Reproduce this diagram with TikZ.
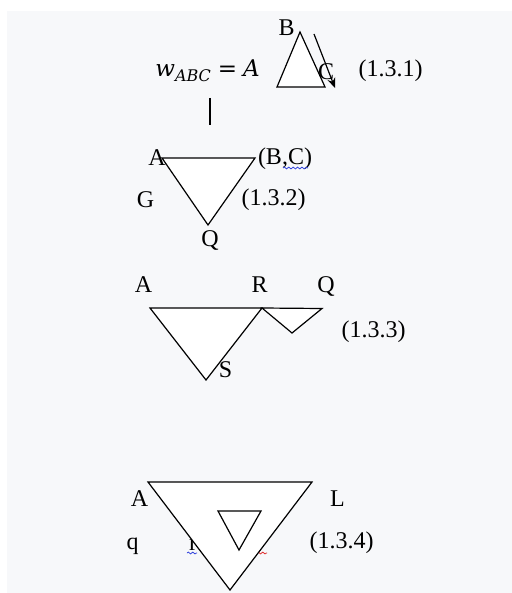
\documentclass[tikz,border=0pt]{standalone}
\usepackage{fontspec}
\setmainfont{Liberation Serif}
\newfontfamily\formulafont{DejaVu Serif}
\usetikzlibrary{arrows.meta,decorations.pathmorphing}
\definecolor{pagegray}{HTML}{F7F8FA}
\definecolor{spellblue}{HTML}{3344DD}
\definecolor{spellred}{HTML}{E03030}

\begin{document}
\begin{tikzpicture}[x=0.5pt,y=-0.5pt]
\tikzset{
  lbl/.style={inner sep=0pt,font=\fontsize{12}{14}\selectfont},
  formula/.style={inner sep=0pt,font=\formulafont\itshape\fontsize{11.5}{14}\selectfont},
  tri/.style={draw=black,fill=white,line width=0.6pt,line join=miter},
  pointer/.style={draw=black,line width=0.6pt,-{Stealth[length=5pt,width=4pt]}},
  squiggle/.style={line width=0.4pt,decorate,decoration={snake,amplitude=0.45pt,segment length=2.2pt}}
}
\fill[white] (0,0) rectangle (512,593);
\fill[pagegray] (7,11) rectangle (512,593);
\useasboundingbox (0,0) rectangle (512,593);
% (1.3.1)
\coordinate (t1_top) at (300,32);
\coordinate (t1_left) at (277,87);
\coordinate (t1_right) at (325,87);
\coordinate (arr_from) at (314,34);
\coordinate (arr_to) at (335,88);
\node[formula,anchor=base west] (n_w) at (155,77)
  {w\raisebox{-2.5pt}{\fontsize{8}{9}\selectfont ABC}\hspace{3.5pt}=\hspace{3pt}A};
\draw[tri] (t1_top) -- (t1_left) -- (t1_right) -- cycle;
\node[lbl] (n_B1) at (286.5,27.5) {B};
\node[lbl] (n_C1) at (326,71.5) {C};
\draw[pointer] (arr_from) -- (arr_to);
\node[lbl] (n_eq1) at (390.5,71) {(1.3.1)};
\coordinate (bar_top) at (210,98);
\coordinate (bar_bot) at (210,125);
\draw[line width=0.6pt] (bar_top) -- (bar_bot);
% (1.3.2)
\coordinate (t2_left) at (162,158);
\coordinate (t2_right) at (255,158);
\coordinate (t2_bot) at (208,225);
\draw[tri] (t2_left) -- (t2_right) -- (t2_bot) -- cycle;
\node[lbl] (n_A2) at (157,157.5) {A};
\node[lbl] (n_BC) at (285,159) {(B,C)};
\node[lbl] (n_G) at (145.5,200) {G};
\node[lbl] (n_eq2) at (273.5,200) {(1.3.2)};
\node[lbl] (n_Q2) at (210,240) {Q};
\draw[squiggle,spellblue] (283,168) -- (308,168);
% (1.3.3)
\coordinate (t3_left) at (150,308);
\coordinate (t3_right) at (262,308);
\coordinate (t3_bot) at (206,380);
\coordinate (t3s_right) at (322,308.5);
\coordinate (t3s_bot) at (292,333);
\draw[tri] (t3_left) -- (t3_right) -- (t3_bot) -- cycle;
\draw[tri] (t3_right) -- (t3s_right) -- (t3s_bot) -- cycle;
\node[lbl] (n_A3) at (143.5,285) {A};
\node[lbl] (n_R) at (259.5,285) {R};
\node[lbl] (n_Q3) at (326,286) {Q};
\node[lbl] (n_eq3) at (373.5,332) {(1.3.3)};
\node[lbl] (n_S) at (225.5,370) {S};
% (1.3.4)
\coordinate (t4_left) at (148,482);
\coordinate (t4_right) at (312,482);
\coordinate (t4_bot) at (230,590);
\coordinate (t4i_left) at (218,511);
\coordinate (t4i_right) at (261,511);
\coordinate (t4i_bot) at (239,550);
\node[lbl] (n_r) at (193,545) {r};
\draw[squiggle,spellblue] (187,553) -- (197,553);
\draw[squiggle,spellred] (257,553) -- (267,553);
\draw[tri] (t4_left) -- (t4_right) -- (t4_bot) -- cycle;
\draw[tri] (t4i_left) -- (t4i_right) -- (t4i_bot) -- cycle;
\node[lbl] (n_A4) at (139.5,498.5) {A};
\node[lbl] (n_L) at (337.5,498.5) {L};
\node[lbl] (n_q) at (132.5,546) {q};
\node[lbl] (n_eq4) at (341.5,543) {(1.3.4)};
\end{tikzpicture}
\end{document}
